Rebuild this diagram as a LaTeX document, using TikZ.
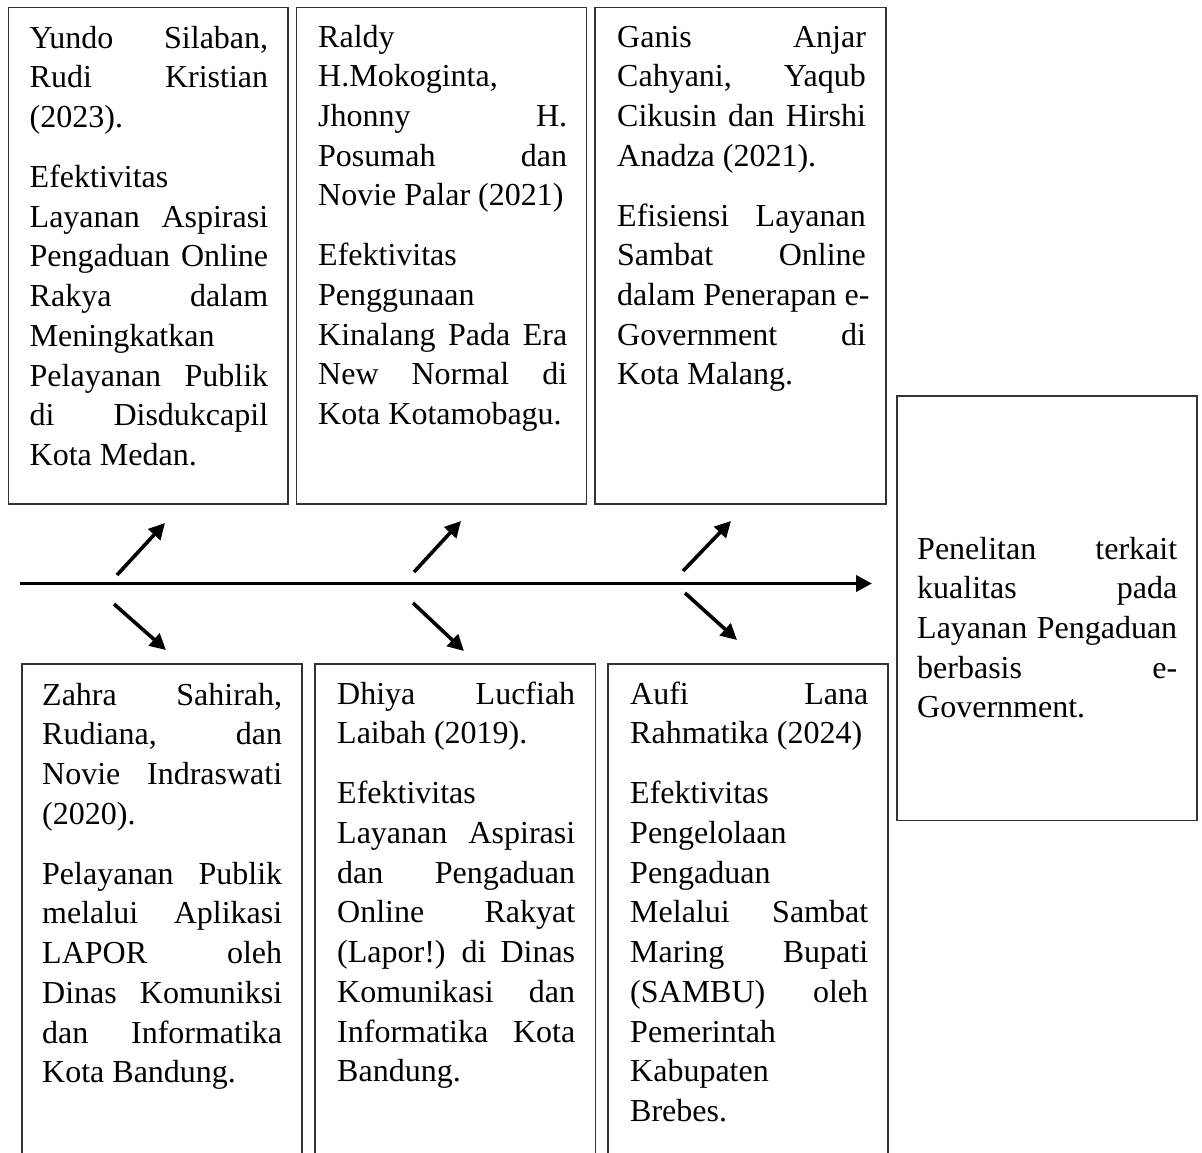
\documentclass[tikz,border=0pt]{standalone}
\usepackage{fontspec}
\setmainfont{Liberation Serif}
\usetikzlibrary{arrows.meta,positioning}
\newcommand{\jrow}[1]{\makebox[\hsize][s]{\spaceskip=\fontdimen2\font plus 1fil\relax #1}}
\newcommand{\lrow}[1]{\makebox[\hsize][l]{\spaceskip=0pt\xspaceskip=0pt\relax #1}}
\begin{document}
\begin{tikzpicture}[x=1pt, y=-1pt,
  frame/.style={draw=black!80, line width=1.3pt, outer sep=0pt, inner sep=0pt, anchor=north west},
  entry/.style={inner sep=0pt, align=left, font=\fontsize{32}{39.7}\selectfont},
  bone/.style={line width=3.6pt, -{Triangle[length=16pt,width=16pt]}}]
\useasboundingbox (0,0) rectangle (1202,1153);
% frames of the literature boxes
\node[frame, minimum width=279.7pt, minimum height=496.7pt] (lit1) at (8.3,7.3) {};
\node[frame, minimum width=290pt, minimum height=496.7pt] (lit2) at (296.7,7.3) {};
\node[frame, minimum width=291pt, minimum height=496.7pt] (lit3) at (595,7.3) {};
\node[frame, minimum width=280pt, minimum height=515pt] (lit4) at (22,664) {};
\node[frame, minimum width=280.3pt, minimum height=515pt] (lit5) at (315,664) {};
\node[frame, minimum width=280pt, minimum height=515pt] (lit6) at (608,664) {};
\node[frame, minimum width=300pt, minimum height=424.7pt] (goal) at (897,396) {};
% texts
\node[entry, text width=238.5pt, below right=12.9pt and 21.2pt of lit1.north west] (lit1txt) {%
\strut\jrow{Yundo Silaban,}\\
\jrow{Rudi Kristian}\\
(2023).\\[20.3pt]
Efektivitas\\
\jrow{Layanan Aspirasi}\\
\jrow{Pengaduan Online}\\
\jrow{Rakya dalam}\\
Meningkatkan\\
\jrow{Pelayanan Publik}\\
\jrow{di Disdukcapil}\\
\lrow{Kota Medan.}};
\node[entry, text width=249pt, below right=11.8pt and 21.3pt of lit2.north west] (lit2txt) {%
\strut Raldy\\
H.Mokoginta,\\
\jrow{Jhonny H.}\\
\jrow{Posumah dan}\\
\lrow{Novie Palar (2021)}\\[20.3pt]
Efektivitas\\
Penggunaan\\
\jrow{Kinalang Pada Era}\\
\jrow{New Normal di}\\
\lrow{Kota Kotamobagu.}};
\node[entry, text width=248.7pt, below right=11.8pt and 22pt of lit3.north west] (lit3txt) {%
\strut\jrow{Ganis Anjar}\\
\jrow{Cahyani, Yaqub}\\
\jrow{Cikusin dan Hirshi}\\
\lrow{Anadza (2021).}\\[20.3pt]
\jrow{Efisiensi Layanan}\\
\jrow{Sambat Online}\\
\jrow{dalam Penerapan e-}\\
\jrow{Government di}\\
\lrow{Kota Malang.}};
\node[entry, text width=240pt, below right=13.2pt and 20pt of lit4.north west] (lit4txt) {%
\strut\jrow{Zahra Sahirah,}\\
\jrow{Rudiana, dan}\\
\jrow{Novie Indraswati}\\
(2020).\\[20.3pt]
\jrow{Pelayanan Publik}\\
\jrow{melalui Aplikasi}\\
\jrow{LAPOR oleh}\\
\jrow{Dinas Komuniksi}\\
\jrow{dan Informatika}\\
\lrow{Kota Bandung.}};
\node[entry, text width=238pt, below right=12.2pt and 22pt of lit5.north west] (lit5txt) {%
\strut\jrow{Dhiya Lucfiah}\\
\lrow{Laibah (2019).}\\[20.3pt]
Efektivitas\\
\jrow{Layanan Aspirasi}\\
\jrow{dan Pengaduan}\\
\jrow{Online Rakyat}\\
\jrow{(Lapor!) di Dinas}\\
\jrow{Komunikasi dan}\\
\jrow{Informatika Kota}\\
Bandung.};
\node[entry, text width=238pt, below right=12.2pt and 22pt of lit6.north west] (lit6txt) {%
\strut\jrow{Aufi Lana}\\
\lrow{Rahmatika (2024)}\\[20.3pt]
Efektivitas\\
Pengelolaan\\
Pengaduan\\
\jrow{Melalui Sambat}\\
\jrow{Maring Bupati}\\
\jrow{(SAMBU) oleh}\\
Pemerintah\\
Kabupaten\\
Brebes.};
\node[entry, text width=260pt, below right=135.2pt and 20pt of goal.north west] (goaltxt) {%
\strut\jrow{Penelitan terkait}\\
\jrow{kualitas pada}\\
\jrow{Layanan Pengaduan}\\
\jrow{berbasis e-}\\
Government.};
% spine and bones
\coordinate (spineA) at (20,583.5);
\coordinate (spineB) at (872,583.5);
\coordinate (up1A) at (117,575);
\coordinate (up1B) at (165,523);
\coordinate (dn1A) at (114,604);
\coordinate (dn1B) at (166,650);
\coordinate (up2A) at (414,572);
\coordinate (up2B) at (461,521);
\coordinate (dn2A) at (413,603);
\coordinate (dn2B) at (464,651);
\coordinate (up3A) at (683,571);
\coordinate (up3B) at (731,521);
\coordinate (dn3A) at (685,593);
\coordinate (dn3B) at (737,640);
\draw[bone] (spineA) -- (spineB);
\draw[bone] (up1A) -- (up1B);
\draw[bone] (dn1A) -- (dn1B);
\draw[bone] (up2A) -- (up2B);
\draw[bone] (dn2A) -- (dn2B);
\draw[bone] (up3A) -- (up3B);
\draw[bone] (dn3A) -- (dn3B);
\end{tikzpicture}
\end{document}
